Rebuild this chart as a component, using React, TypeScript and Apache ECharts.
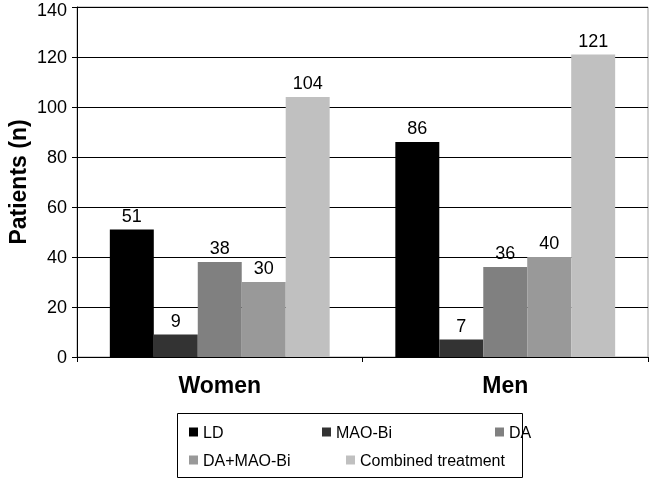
import React, { useEffect, useRef } from "react";
import * as echarts from "echarts";

const categories = ["Women", "Men"];
const seriesNames = ["LD", "MAO-Bi", "DA", "DA+MAO-Bi", "Combined treatment"];
const ldValues = [51, 86];
const maoBiValues = [9, 7];
const daValues = [38, 36];
const daMaoBiValues = [30, 40];
const combinedValues = [104, 121];
const seriesColors = ["#000000", "#333333", "#808080", "#999999", "#c0c0c0"];

const FONT = "'Liberation Sans', Arial, sans-serif";

export default function App() {
  const ref = useRef<HTMLDivElement>(null);
  useEffect(() => {
    if (!ref.current) return;
    const chart = echarts.init(ref.current, undefined, { renderer: "svg" });
    const values = [ldValues, maoBiValues, daValues, daMaoBiValues, combinedValues];
    const legendPos = [
      { left: 189, top: 424 },
      { left: 322, top: 424 },
      { left: 495, top: 424 },
      { left: 189, top: 452 },
      { left: 346, top: 452 },
    ];
    chart.setOption({
      animation: false,
      textStyle: { fontFamily: FONT },
      grid: {
        left: 77,
        right: 2,
        top: 7,
        bottom: 123,
        containLabel: false,
        outerBoundsMode: "none",
        show: true,
        borderColor: "#a0a0a0",
        borderWidth: 1,
      },
      legend: seriesNames.map((n, i) => ({
        data: [n],
        left: legendPos[i].left,
        top: legendPos[i].top,
        padding: 0,
        icon: "rect",
        itemWidth: 9,
        itemHeight: 9,
        textStyle: { fontSize: 16, color: "#000", fontFamily: FONT },
        selectedMode: false,
      })),
      xAxis: {
        type: "category",
        data: categories,
        axisLine: { lineStyle: { color: "#000", width: 1 } },
        axisTick: { show: true, length: 5, lineStyle: { color: "#000" } },
        axisLabel: {
          fontSize: 23,
          fontWeight: "bold",
          color: "#000",
          margin: 16,
          fontFamily: FONT,
        },
      },
      yAxis: {
        type: "value",
        min: 0,
        max: 140,
        interval: 20,
        name: "Patients (n)",
        nameLocation: "middle",
        nameGap: 48,
        nameMoveOverlap: false,
        nameTextStyle: {
          fontSize: 23,
          fontWeight: "bold",
          color: "#000",
          fontFamily: FONT,
        },
        axisLine: { show: true, lineStyle: { color: "#000", width: 1 } },
        axisTick: { show: true, length: 5, lineStyle: { color: "#000" } },
        axisLabel: {
          fontSize: 18,
          color: "#000",
          margin: 10,
          fontFamily: FONT,
          formatter: (v: number) => (v === 140 ? `{top|${v}}` : `${v}`),
          rich: {
            top: {
              fontSize: 18,
              color: "#000",
              fontFamily: FONT,
              padding: [6, 0, 0, 0],
            },
          },
        },
        splitLine: { show: true, lineStyle: { color: "#000", width: 1 } },
      },
      graphic: [
        {
          type: "rect",
          shape: { x: 177.5, y: 413.5, width: 345, height: 64 },
          style: { fill: "none", stroke: "#000", lineWidth: 1 },
          silent: true,
        },
      ],
      series: seriesNames.map((n, i) => ({
        name: n,
        type: "bar",
        data: values[i],
        barGap: "0%",
        barCategoryGap: "23%",
        itemStyle: { color: seriesColors[i] },
        label: {
          show: true,
          position: "top",
          distance: 5,
          fontSize: 18,
          color: "#000",
          fontFamily: FONT,
        },
      })),
    });
    return () => chart.dispose();
  }, []);
  return (
    <div
      ref={ref}
      style={{ position: "fixed", left: 0, top: 0, width: 650, height: 480 }}
    />
  );
}
